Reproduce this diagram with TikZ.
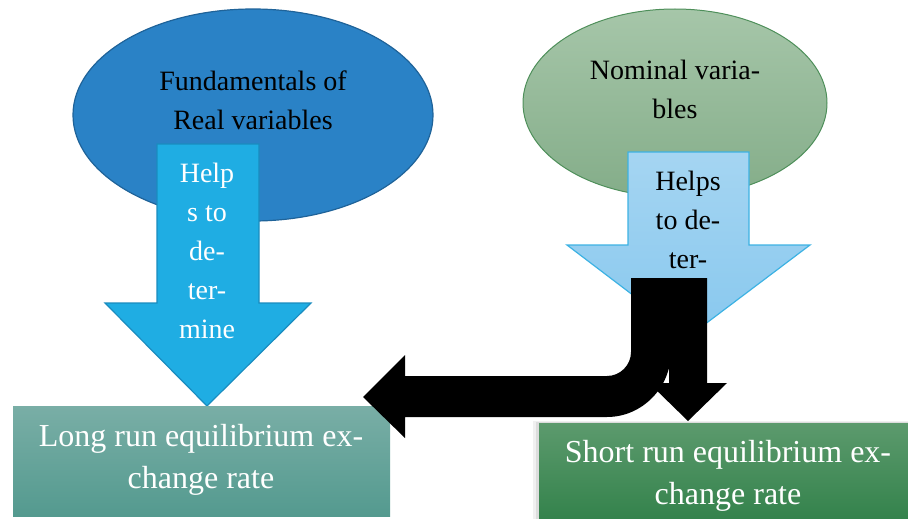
\documentclass[tikz,border=0pt]{standalone}
\usepackage{fontspec}
\setmainfont{Liberation Serif}
\usetikzlibrary{shapes.geometric}
\definecolor{ellA}{HTML}{2A82C6}
\definecolor{ellAb}{HTML}{1F6399}
\definecolor{arrA}{HTML}{1FADE3}
\definecolor{arrAb}{HTML}{1A8CBF}
\definecolor{ellBt}{HTML}{A6C6A9}
\definecolor{ellBb}{HTML}{84AD89}
\definecolor{ellBd}{HTML}{4E8F5A}
\definecolor{arrBt}{HTML}{A5D5F2}
\definecolor{arrBb}{HTML}{88C8EE}
\definecolor{arrBd}{HTML}{3DB2E3}
\definecolor{boxAt}{HTML}{79AEA6}
\definecolor{boxAb}{HTML}{549A8F}
\definecolor{boxBt}{HTML}{5C9A6D}
\definecolor{boxBb}{HTML}{2E7F47}
\tikzset{
  smalltxt/.style={align=center, inner sep=0pt, font=\fontsize{28}{39}\selectfont},
  bigtxt/.style={align=center, inner sep=0pt, text=white, font=\fontsize{32}{41.5}\selectfont},
  blockarrow/.style={line width=1.2pt, line join=miter},
}
\begin{document}
\begin{tikzpicture}[x=1pt,y=-1pt]
\useasboundingbox (0,0) rectangle (908,519);
\clip (0,0) rectangle (908,519);

% left ellipse and arrow
\node[ellipse, minimum width=360pt, minimum height=212pt, inner sep=0pt,
      fill=ellA, draw=ellAb, line width=1.2pt] (fund) at (253,115) {};
\node[smalltxt] (fundtxt) at (253,100) {Fundamentals of\\Real variables};
\draw[blockarrow, fill=arrA, draw=arrAb]
  (157,144) -- (259,144) -- (259,303) -- (311,303) -- (207,406) -- (105,303) -- (157,303) -- cycle;
\node[smalltxt, text=white] (helpA) at (207,251) {Help\\s to\\de-\\ter-\\mine};

% right ellipse and arrow
\node[ellipse, minimum width=304pt, minimum height=188pt, inner sep=0pt,
      top color=ellBt, bottom color=ellBb, draw=ellBd, line width=1pt] (nom) at (675,103) {};
\node[smalltxt] (nomtxt) at (675,89) {Nominal varia-\\bles};
\draw[blockarrow, top color=arrBt, bottom color=arrBb, draw=arrBd]
  (628,152) -- (749,152) -- (749,245) -- (810,245) -- (688,337) -- (567,245) -- (628,245) -- cycle;
\node[smalltxt] (helpB) at (688,220) {Helps\\to de-\\ter-};

% boxes
\node[minimum width=377pt, minimum height=110pt, inner sep=0pt,
      top color=boxAt, bottom color=boxAb] (longbox) at (201.5,461) {};
\node[bigtxt] (longtxt) at (201,460) {Long run equilibrium ex-\\change rate};
\fill[black, opacity=0.06] (533,421) rectangle (930,530);
\fill[black, opacity=0.08] (536,422) rectangle (930,530);
\node[minimum width=381pt, minimum height=110pt, inner sep=0pt,
      top color=boxBt, bottom color=boxBb] (shortbox) at (729.5,478) {};
\node[bigtxt] (shorttxt) at (728,476) {Short run equilibrium ex-\\change rate};

% black arrows
\fill[black] (669,278) -- (707,278) -- (707,383) -- (727,383) -- (688,421) -- (649,383) -- (669,383) -- cycle;
\fill[black] (363,397) -- (405,355) -- (405,376) -- (607,376)
  .. controls (620.2,376) and (631,365.2) .. (631,352)
  -- (631,278) -- (671,278) -- (671,352)
  .. controls (671,387.3) and (642.3,417) .. (607,417)
  -- (405,417) -- (405,438) -- cycle;
\end{tikzpicture}
\end{document}
